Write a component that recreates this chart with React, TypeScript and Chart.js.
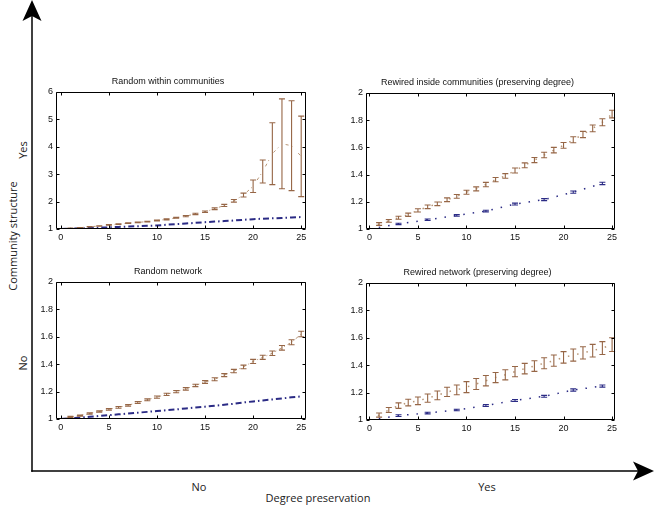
import React, { useEffect, useRef } from 'react';
import { Chart, registerables } from 'chart.js';
Chart.register(...registerables);

// ---------- data ----------
const xAll = [0,1,2,3,4,5,6,7,8,9,10,11,12,13,14,15,16,17,18,19,20,21,22,23,24,25];
const xEvery3 = [0,3,6,9,12,15,18,21,24];
const xTickValues = [0,5,10,15,20,25];
const yTicksTall = [1,2,3,4,5,6];
const yTicksShort = [1,1.2,1.4,1.6,1.8,2];

const titles = [
  'Random within communities',
  'Rewired inside communities (preserving degree)',
  'Random network',
  'Rewired network (preserving degree)',
];

// Random within communities
const rwcBrown = [1.00,1.03,1.05,1.08,1.11,1.15,1.18,1.21,1.24,1.27,1.31,1.35,1.41,1.47,1.55,1.63,1.74,1.86,2.03,2.24,2.56,3.10,3.75,4.11,4.04,3.65];
const rwcBrownErr = [0,0.006,0.007,0.008,0.009,0.01,0.011,0.012,0.013,0.015,0.016,0.018,0.02,0.022,0.025,0.028,0.032,0.038,0.048,0.07,0.23,0.42,1.13,1.64,1.64,1.47];
const rwcBlue = [1.00,1.01,1.025,1.035,1.05,1.06,1.075,1.09,1.10,1.115,1.13,1.155,1.18,1.20,1.225,1.25,1.27,1.29,1.31,1.335,1.36,1.375,1.39,1.405,1.42,1.435];

// Rewired inside communities
const ricBrown = [1.00,1.037,1.06,1.083,1.105,1.137,1.163,1.185,1.215,1.24,1.27,1.295,1.327,1.363,1.39,1.43,1.468,1.507,1.544,1.58,1.615,1.656,1.695,1.74,1.785,1.845];
const ricBrownErr = [0,0.01,0.01,0.011,0.012,0.012,0.013,0.013,0.014,0.014,0.015,0.015,0.016,0.016,0.017,0.018,0.018,0.019,0.02,0.02,0.021,0.022,0.023,0.025,0.026,0.028];
const ricBlue = [1.0,1.037,1.068,1.10,1.132,1.183,1.216,1.271,1.335];
const ricBlueErr = [0,0.005,0.006,0.006,0.006,0.007,0.007,0.008,0.009];

// Random network
const rnBrown = [1.00,1.015,1.025,1.04,1.055,1.07,1.085,1.10,1.12,1.14,1.16,1.18,1.20,1.22,1.245,1.27,1.29,1.32,1.35,1.38,1.42,1.45,1.48,1.52,1.56,1.62];
const rnBrownErr = [0,0.004,0.004,0.005,0.005,0.006,0.006,0.006,0.007,0.007,0.008,0.008,0.008,0.009,0.009,0.01,0.011,0.011,0.012,0.013,0.015,0.015,0.016,0.017,0.018,0.02];
const rnBlue = [1.00,1.005,1.01,1.016,1.022,1.028,1.034,1.04,1.046,1.052,1.058,1.064,1.07,1.077,1.084,1.09,1.097,1.104,1.111,1.121,1.128,1.135,1.143,1.15,1.158,1.165];

// Rewired network
const rwBrown = [1.00,1.036,1.073,1.105,1.127,1.14,1.16,1.18,1.205,1.22,1.24,1.263,1.287,1.31,1.33,1.353,1.375,1.394,1.414,1.433,1.457,1.474,1.49,1.506,1.525,1.55];
const rwBrownErr = [0,0.015,0.018,0.02,0.024,0.028,0.03,0.032,0.034,0.036,0.04,0.04,0.038,0.037,0.037,0.037,0.038,0.039,0.04,0.041,0.042,0.044,0.045,0.046,0.047,0.05];
const rwBlue = [1.0,1.032,1.051,1.073,1.105,1.143,1.173,1.219,1.248];
const rwBlueErr = [0,0.006,0.006,0.006,0.007,0.007,0.007,0.008,0.008];

// ---------- styles ----------
const BROWN = '#966646';
const BROWN_LINE = '#b89677';
const BLUE = '#2b2b85';
const TICK_FONT = { family: '"Liberation Sans", Arial, sans-serif', size: 9 };

const pts = (xs: number[], ys: number[]) => xs.map((x, i) => ({ x, y: ys[i] }));

const matlabPlugin = {
  id: 'matlabAxes',
  afterDatasetsDraw(chart: any) {
    const { ctx, scales } = chart;
    const x = scales.x, y = scales.y;
    chart.data.datasets.forEach((ds: any) => {
      if (!ds.errs) return;
      ctx.save();
      ctx.strokeStyle = ds.errColor;
      ctx.lineWidth = 1.1;
      ds.data.forEach((p: any, j: number) => {
        const e = ds.errs[j];
        if (!e) return;
        const px = x.getPixelForValue(p.x);
        const y1 = y.getPixelForValue(p.y - e);
        const y2 = y.getPixelForValue(p.y + e);
        const c = 3;
        ctx.beginPath();
        ctx.moveTo(px, y1); ctx.lineTo(px, y2);
        ctx.moveTo(px - c, y1); ctx.lineTo(px + c, y1);
        ctx.moveTo(px - c, y2); ctx.lineTo(px + c, y2);
        ctx.stroke();
      });
      ctx.restore();
    });
  },
  afterDraw(chart: any) {
    const { ctx, chartArea: a, scales } = chart;
    const x = scales.x, y = scales.y;
    ctx.save();
    ctx.strokeStyle = '#000';
    ctx.lineWidth = 1;
    const L = Math.round(a.left) + 0.5, R = Math.round(a.right) - 0.5;
    const T = Math.round(a.top) + 0.5, B = Math.round(a.bottom) - 0.5;
    ctx.beginPath();
    ctx.rect(L, T, R - L, B - T);
    const tl = 3;
    x.ticks.forEach((t: any) => {
      const px = Math.round(x.getPixelForValue(t.value)) + 0.5;
      ctx.moveTo(px, B); ctx.lineTo(px, B - tl);
      ctx.moveTo(px, T); ctx.lineTo(px, T + tl);
    });
    y.ticks.forEach((t: any) => {
      const py = Math.round(y.getPixelForValue(t.value)) + 0.5;
      ctx.moveTo(L, py); ctx.lineTo(L + tl, py);
      ctx.moveTo(R, py); ctx.lineTo(R - tl, py);
    });
    ctx.stroke();
    ctx.restore();
  },
};

type Panel = {
  title: string;
  left: number; top: number; width: number; height: number;
  xmin: number; xmax: number;
  ymax: number; yTicks: number[];
  datasets: any[];
};

const panels: Panel[] = [
  {
    title: titles[0], left: 30, top: 70, width: 290, height: 180,
    xmin: -0.5, xmax: 25.5, ymax: 6, yTicks: yTicksTall,
    datasets: [
      { data: pts(xAll, rwcBrown), errs: rwcBrownErr, errColor: BROWN, borderColor: BROWN_LINE, borderWidth: 1, borderDash: [3, 3, 1, 9] },
      { data: pts(xAll, rwcBlue), borderColor: BLUE, borderWidth: 2, borderDash: [6, 3, 1.5, 3] },
    ],
  },
  {
    title: titles[1], left: 340, top: 71, width: 289, height: 179,
    xmin: -0.35, xmax: 25.3, ymax: 2, yTicks: yTicksShort,
    datasets: [
      { data: pts(xAll, ricBrown), errs: ricBrownErr, errColor: BROWN, borderColor: BROWN_LINE, borderWidth: 1.5, borderDash: [1.5, 8] },
      { data: pts(xEvery3, ricBlue), errs: ricBlueErr, errColor: BLUE, borderColor: BLUE, borderWidth: 1.5, borderDash: [1.5, 8] },
    ],
  },
  {
    title: titles[2], left: 30, top: 260, width: 290, height: 180,
    xmin: -0.5, xmax: 25.5, ymax: 2, yTicks: yTicksShort,
    datasets: [
      { data: pts(xAll, rnBrown), errs: rnBrownErr, errColor: BROWN, borderColor: BROWN_LINE, borderWidth: 1, borderDash: [3, 3, 1, 3] },
      { data: pts(xAll, rnBlue), borderColor: BLUE, borderWidth: 2, borderDash: [6, 3, 1.5, 3] },
    ],
  },
  {
    title: titles[3], left: 340, top: 261, width: 289, height: 180,
    xmin: -0.35, xmax: 25.3, ymax: 2, yTicks: yTicksShort,
    datasets: [
      { data: pts(xAll, rwBrown), errs: rwBrownErr, errColor: BROWN, borderColor: BROWN_LINE, borderWidth: 1.5, borderDash: [1.5, 8] },
      { data: pts(xEvery3, rwBlue), errs: rwBlueErr, errColor: BLUE, borderColor: BLUE, borderWidth: 1.5, borderDash: [1.5, 8] },
    ],
  },
];

function PanelChart({ p }: { p: Panel }) {
  const ref = useRef<HTMLCanvasElement | null>(null);
  useEffect(() => {
    if (!ref.current) return;
    const chart = new Chart(ref.current, {
      type: 'scatter',
      data: {
        datasets: p.datasets.map((d) => ({
          ...d,
          showLine: true,
          pointRadius: 0,
          tension: 0,
          fill: false,
        })),
      },
      options: {
        animation: false,
        responsive: false,
        events: [],
        layout: { padding: { left: 0, right: 14, top: 0, bottom: 0 } },
        plugins: {
          legend: { display: false },
          tooltip: { enabled: false },
          title: {
            display: true,
            text: p.title,
            color: '#111',
            font: { ...TICK_FONT, weight: 'normal' },
            padding: { top: 6, bottom: 5.2 },
          },
        },
        scales: {
          x: {
            type: 'linear',
            min: p.xmin,
            max: p.xmax,
            grid: { display: false, drawTicks: false },
            border: { display: false },
            ticks: { color: '#111', font: TICK_FONT, padding: 3, maxRotation: 0, autoSkip: false, callback: (v: any) => String(v) },
            afterBuildTicks: (s: any) => { s.ticks = xTickValues.map((v) => ({ value: v })); },
            afterFit: (s: any) => { s.height = 21; },
          },
          y: {
            type: 'linear',
            min: 1,
            max: p.ymax,
            grid: { display: false, drawTicks: false },
            border: { display: false },
            ticks: { color: '#111', font: TICK_FONT, padding: 3, autoSkip: false, callback: (v: any) => String(Math.round(v * 10) / 10) },
            afterBuildTicks: (s: any) => { s.ticks = p.yTicks.map((v) => ({ value: v })); },
            afterFit: (s: any) => { s.width = 26; },
          },
        },
      } as any,
      plugins: [matlabPlugin],
    });
    return () => chart.destroy();
  }, [p]);
  return (
    <canvas
      ref={ref}
      width={p.width}
      height={p.height}
      style={{ position: 'absolute', left: p.left, top: p.top, width: p.width, height: p.height }}
    />
  );
}

const frameFont: React.CSSProperties = {
  position: 'absolute',
  fontFamily: '"Open Sans", "Noto Sans", sans-serif',
  fontSize: 11,
  color: '#222',
  whiteSpace: 'nowrap',
  lineHeight: 1,
};

function Label({ text, x, y, rotate }: { text: string; x: number; y: number; rotate?: boolean }) {
  return (
    <div
      style={{
        ...frameFont,
        left: x,
        top: y,
        transform: `translate(-50%, -50%)${rotate ? ' rotate(-90deg)' : ''}`,
      }}
    >
      {text}
    </div>
  );
}

export default function App() {
  return (
    <div style={{ position: 'absolute', left: 0, top: 0, width: 655, height: 505, background: '#fff', overflow: 'hidden' }}>
      <svg width={655} height={505} style={{ position: 'absolute', left: 0, top: 0 }}>
        <line x1={32} y1={14} x2={32} y2={471.75} stroke="#000" strokeWidth={1.5} />
        <line x1={31.25} y1={471} x2={640} y2={471} stroke="#000" strokeWidth={1.5} />
        <path d="M32 0 L41.5 21 L32 16 L22.5 21 Z" fill="#000" />
        <path d="M654 471 L633 461.5 L638 471 L633 480.5 Z" fill="#000" />
      </svg>
      {panels.map((p, i) => (
        <PanelChart key={i} p={p} />
      ))}
      <Label text="Yes" x={22} y={150} rotate />
      <Label text="Community structure" x={12} y={236} rotate />
      <Label text="No" x={22} y={363} rotate />
      <Label text="No" x={199} y={486} />
      <Label text="Yes" x={487} y={486} />
      <Label text="Degree preservation" x={318} y={497} />
    </div>
  );
}
